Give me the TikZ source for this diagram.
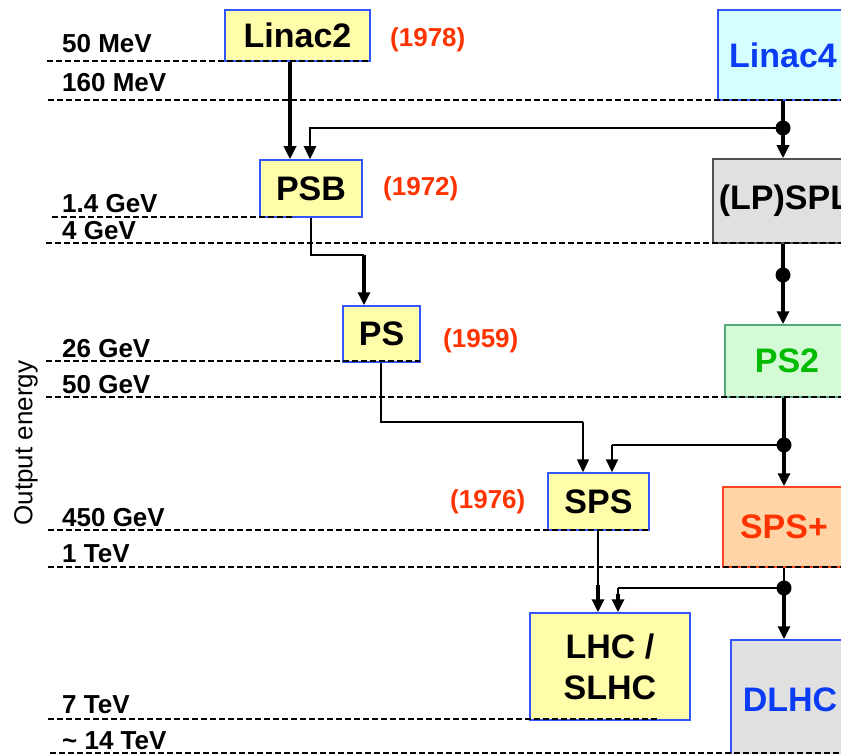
\documentclass[tikz,border=0pt]{standalone}
\usepackage{fontspec}
\setmainfont{Liberation Sans}
\usetikzlibrary{arrows.meta,calc}
\definecolor{boxyellow}{HTML}{FFFCAA}
\definecolor{boxblue}{HTML}{3355FF}
\definecolor{txtblue}{HTML}{0A3CF5}
\definecolor{cyanfill}{HTML}{D5FFFF}
\definecolor{greyfill}{HTML}{E0E0E0}
\definecolor{greyline}{HTML}{505050}
\definecolor{greenfill}{HTML}{D4FAD6}
\definecolor{greenline}{HTML}{55AA77}
\definecolor{greentxt}{HTML}{00BB00}
\definecolor{peachfill}{HTML}{FFD5A8}
\definecolor{redline}{HTML}{FF4422}
\definecolor{yeartxt}{HTML}{FF3300}
\begin{document}
\begin{tikzpicture}[x=1pt,y=-1pt,
  box/.style={draw=boxblue, line width=1.5pt, fill=boxyellow, inner sep=0pt, align=center,
    font=\fontsize{34}{41}\selectfont\bfseries},
  energy/.style={anchor=base west, inner sep=0pt, font=\fontsize{26}{30}\selectfont\bfseries},
  year/.style={anchor=base west, inner sep=0pt, text=yeartxt, font=\fontsize{26}{30}\selectfont\bfseries},
  level/.style={line width=1.7pt, dash pattern=on 5.5pt off 3.5pt},
  fat/.style={line width=3.2pt},
  mid/.style={line width=2.3pt},
  slim/.style={line width=1.4pt},
  tip/.style={-{Triangle[length=13pt,width=12pt]}},
  dot/.style={circle, fill=black, inner sep=0pt, minimum size=15pt}
]
\useasboundingbox (0,0) rectangle (841,754);

% boxes
\node[box, minimum width=145pt, minimum height=51pt] (linac2) at (297.5,35.5) {Linac2};
\node[box, fill=cyanfill, text=txtblue, minimum width=130pt, minimum height=90pt] (linac4) at (783,55) {Linac4};
\node[box, minimum width=102pt, minimum height=57pt] (psb) at (311,188.5) {PSB};
\node[box, draw=greyline, fill=greyfill, minimum width=144pt, minimum height=84pt] (lpspl) at (785,201) {(LP)SPL};
\node[box, minimum width=77pt, minimum height=56pt] (ps) at (381.5,334) {PS};
\node[box, draw=greenline, fill=greenfill, text=greentxt, minimum width=124pt, minimum height=72pt] (ps2) at (787,361) {PS2};
\node[box, minimum width=101pt, minimum height=57pt] (sps) at (598.5,501.5) {SPS};
\node[box, draw=redline, fill=peachfill, text=yeartxt, minimum width=122pt, minimum height=80pt] (spsp) at (784,527) {SPS+};
\node[box, minimum width=160pt, minimum height=107pt] (lhc) at (610,666.5) {LHC /\\SLHC};
\node[box, fill=greyfill, text=txtblue, minimum width=118pt, minimum height=120pt] (dlhc) at (790,700) {DLHC};

% energy levels
\draw[level] (47,61) -- (370,61);
\draw[level] (48,100) -- (841,100);
\draw[level] (52,217) -- (295,217);
\draw[level] (46,243) -- (841,243);
\draw[level] (46,361) -- (420,361);
\draw[level] (46,397) -- (841,397);
\draw[level] (48,530) -- (649,530);
\draw[level] (48,567) -- (841,567);
\draw[level] (48,719) -- (660,719);
\draw[level] (50,753) -- (841,753);

\node[energy] (e1) at (62,53) {50 MeV};
\node[energy] (e2) at (62,92) {160 MeV};
\node[energy] (e3) at (62,213) {1.4 GeV};
\node[energy] (e4) at (62,240) {4 GeV};
\node[energy] (e5) at (62,357) {26 GeV};
\node[energy] (e6) at (62,393) {50 GeV};
\node[energy] (e7) at (62,526) {450 GeV};
\node[energy] (e8) at (62,562) {1 TeV};
\node[energy] (e9) at (62,713) {7 TeV};
\node[energy] (e10) at (62,749) {\char`~{} 14 TeV};

\node[year] (y1) at (390,47) {(1978)};
\node[year] (y2) at (383,196) {(1972)};
\node[year] (y3) at (443,347) {(1959)};
\node[year] (y4) at (450,508) {(1976)};

\node[rotate=90, inner sep=0pt, font=\fontsize{26}{30}\selectfont] (axis) at (26,443) {Output energy};

% junctions
\coordinate (j1) at (783,128);
\coordinate (j2) at (783,275);
\coordinate (j3) at (784,445);
\coordinate (j4) at (784,588);
\coordinate (b1) at (364,255);
\coordinate (b2) at (583,422);
\coordinate (c3) at (612,445);
\coordinate (c4) at (618,588);

% connectors
\draw[fat, tip] ([xshift=-7.5pt]linac2.south) -- ([xshift=-21pt]psb.north);
\draw[fat] (linac4.south -| j1) -- (j1);
\draw[fat, tip] (j1) -- (j1 |- lpspl.north);
\draw[mid, tip] (j1) -| ([xshift=-1pt]psb.north);

\draw[slim] (psb.south) |- (b1);
\draw[fat, tip] (b1) -- (b1 |- ps.north);

\draw[fat] (lpspl.south -| j2) -- (j2);
\draw[fat, tip] (j2) -- (j2 |- ps2.north);

\draw[slim] ([xshift=-0.5pt]ps.south) |- (b2);
\draw[slim, tip] (b2) -- (b2 |- sps.north);

\draw[fat] (ps2.south -| j3) -- (j3);
\draw[fat, tip] (j3) -- (j3 |- spsp.north);
\draw[slim] (j3) -- (c3);
\draw[mid, tip] (c3) -- (c3 |- sps.north);

\draw[slim] ([xshift=-0.5pt]sps.south) -- ([xshift=-0.5pt]sps.south |- 0,590);
\draw[fat, tip] ([xshift=-0.5pt]sps.south |- 0,585) -- ([xshift=-0.5pt]sps.south |- lhc.north);

\draw[slim] (spsp.south -| j4) -- (j4);
\draw[fat, tip] (j4) -- (j4 |- dlhc.north);
\draw[slim] (j4) -- (c4);
\draw[fat, tip] ([yshift=-6pt]c4) -- (c4 |- lhc.north);
\draw[slim] (c4) -- ([yshift=-6pt]c4);

\node[dot] (d1) at (j1) {};
\node[dot] (d2) at (j2) {};
\node[dot] (d3) at (j3) {};
\node[dot] (d4) at (j4) {};
\end{tikzpicture}
\end{document}
